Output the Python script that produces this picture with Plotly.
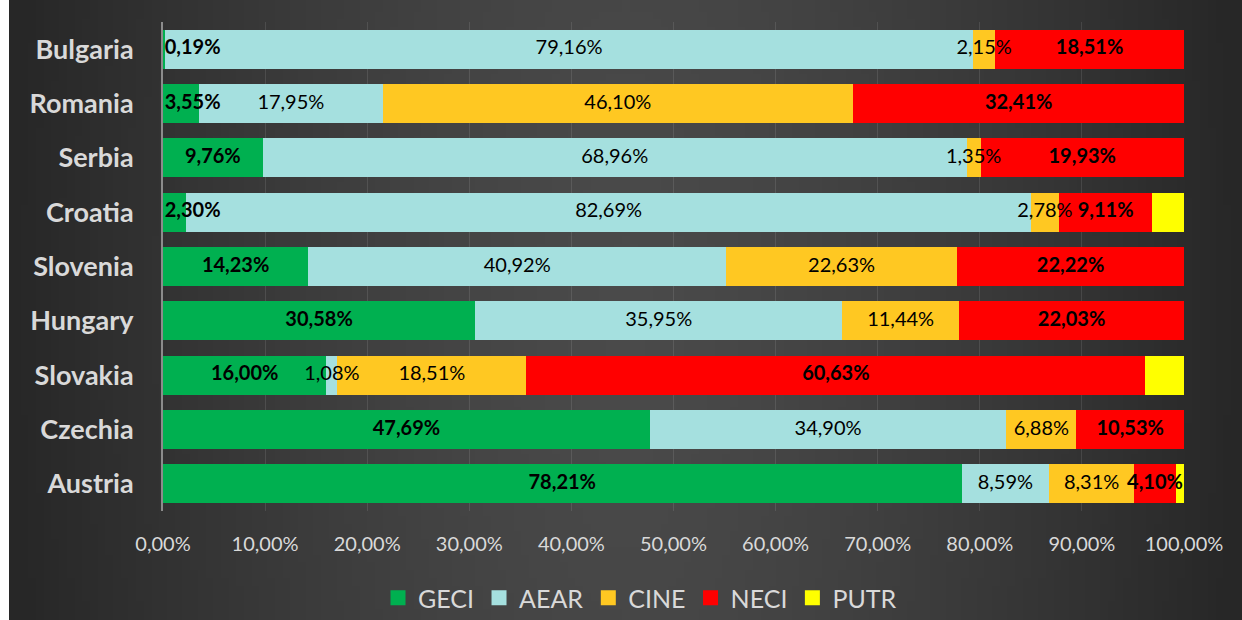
import zlib, struct, base64, math
import plotly.graph_objects as go

countries = ["Bulgaria", "Romania", "Serbia", "Croatia", "Slovenia",
             "Hungary", "Slovakia", "Czechia", "Austria"]
GECI = [0.19, 3.55, 9.76, 2.30, 14.23, 30.58, 16.00, 47.69, 78.21]
AEAR = [79.16, 17.95, 68.96, 82.69, 40.92, 35.95, 1.08, 34.90, 8.59]
CINE = [2.15, 46.10, 1.35, 2.78, 22.63, 11.44, 18.51, 6.88, 8.31]
NECI = [18.51, 32.41, 19.93, 9.11, 22.22, 22.03, 60.63, 10.53, 4.10]
PUTR = [0.0, 0.0, 0.0, 3.12, 0.0, 0.0, 3.78, 0.0, 0.79]
tick_vals = [0, 10, 20, 30, 40, 50, 60, 70, 80, 90, 100]

series = [("GECI", GECI, "#00B050", True, True),
          ("AEAR", AEAR, "#A5E0DF", False, True),
          ("CINE", CINE, "#FFC822", False, True),
          ("NECI", NECI, "#FF0000", True, True),
          ("PUTR", PUTR, "#FFFF00", False, False)]

FONT = "Lato"


def pct(v):
    return f"{v:.2f}".replace(".", ",") + "%"


# background gradient image
def make_bg(W=160, H=80):
    raw = bytearray()
    for j in range(H):
        raw.append(0)
        y = j / (H - 1)
        for i in range(W):
            x = i / (W - 1)
            d = math.sqrt(((x - 0.5) / 0.5) ** 2 + ((y - 0.5) / 2.6) ** 2)
            d = min(d, 1.0)
            v = int(round(74 - 35 * d ** 1.4))
            raw += bytes([v, v, v])

    def chunk(t, data):
        return struct.pack(">I", len(data)) + t + data + struct.pack(">I", zlib.crc32(t + data) & 0xffffffff)
    png = (b"\x89PNG\r\n\x1a\n" + chunk(b"IHDR", struct.pack(">IIBBBBB", W, H, 8, 2, 0, 0, 0))
           + chunk(b"IDAT", zlib.compress(bytes(raw))) + chunk(b"IEND", b""))
    return "data:image/png;base64," + base64.b64encode(png).decode()


fig = go.Figure()
base = [0.0] * len(countries)
label_traces = []
legend_traces = []
for name, vals, color, bold, show in series:
    fig.add_trace(go.Bar(
        y=countries, x=vals, name=name, orientation="h",
        marker=dict(color=color, line=dict(width=0)),
        hoverinfo="x+name", showlegend=False,
    ))
    legend_traces.append(go.Scatter(
        x=[None], y=[None], mode="markers", name=name,
        marker=dict(symbol="square", size=15, color=color, line=dict(width=0))))
    if show:
        xs, ts = [], []
        for k, v in enumerate(vals):
            c = base[k] + v / 2
            xs.append(max(c, 2.9))
            s = pct(v)
            ts.append(f"<b>{s}</b>" if bold else s)
        label_traces.append(go.Scatter(
            y=countries, x=xs, text=ts, mode="text", textposition="middle center",
            textfont=dict(family=FONT, size=20, color="#000000"),
            showlegend=False, hoverinfo="skip", cliponaxis=False))
    base = [b + v for b, v in zip(base, vals)]

for t in label_traces + legend_traces:
    fig.add_trace(t)

L, R, T, B = 163, 58, 22, 109
pw, ph = 1242 - L - R, 620 - T - B

fig.update_layout(
    width=1242, height=620,
    margin=dict(l=L, r=R, t=T, b=B, pad=0),
    barmode="stack", bargap=0.28,
    paper_bgcolor="#FFFFFF", plot_bgcolor="rgba(0,0,0,0)",
    font=dict(family=FONT, color="#D9D9D9"),
    images=[dict(source=make_bg(), xref="paper", yref="paper",
                 x=(9 - L) / pw, y=1 + T / ph, sizex=(1242 - 9) / pw, sizey=620 / ph,
                 xanchor="left", yanchor="top", sizing="stretch", layer="below")],
    xaxis=dict(range=[0, 100], tickmode="array", tickvals=tick_vals,
               ticktext=[pct(v) for v in tick_vals],
               showgrid=True, gridcolor="rgba(255,255,255,0.10)", gridwidth=1,
               zeroline=False, showline=False, ticks="", automargin=False,
               tickfont=dict(family=FONT, size=20, color="#D9D9D9"), ticklabelstandoff=19),
    yaxis=dict(categoryorder="array", categoryarray=countries, autorange="reversed",
               showgrid=False, zeroline=False, showline=True, linecolor="#8C8C8C", linewidth=2,
               ticks="", automargin=False,
               tickfont=dict(family=FONT, size=27, color="#D9D9D9", weight="bold"),
               ticklabelstandoff=22),
    legend=dict(orientation="h", xref="container", x=640 / 1242, xanchor="center",
                yref="container", y=(620 - 598) / 620, yanchor="middle",
                font=dict(family=FONT, size=25, color="#D9D9D9"), bgcolor="rgba(0,0,0,0)",
                itemclick=False, traceorder="normal"),
    showlegend=True,
)

fig.write_html("out.html", config={"displayModeBar": False},
               post_script="document.body.style.margin='0';document.body.style.overflow='hidden';")
